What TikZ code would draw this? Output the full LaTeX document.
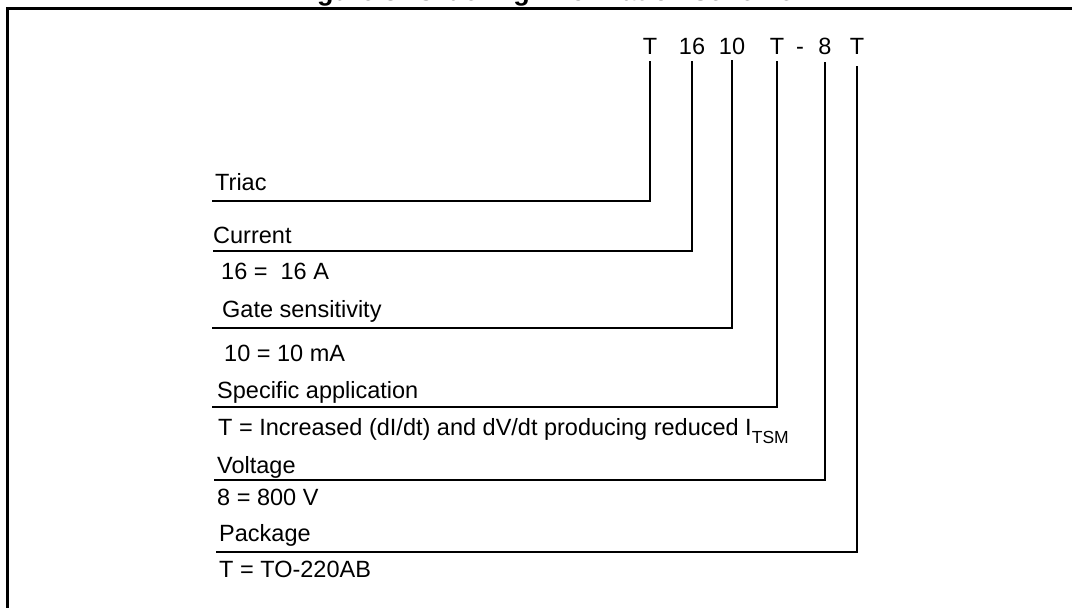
\documentclass[tikz,border=0pt]{standalone}
\usepackage{fontspec}
\setmainfont{Liberation Sans}
\begin{document}
\begin{tikzpicture}[x=1pt,y=-1pt,
  lbl/.style={anchor=base west,inner sep=0pt,font=\fontsize{23.5}{28}\selectfont},
  code/.style={anchor=base,inner sep=0pt,font=\fontsize{23.5}{28}\selectfont},
  conn/.style={line width=2pt,line cap=rect,line join=miter},
  frame/.style={line width=3pt}]
\useasboundingbox (0,0) rectangle (1072,608);
% title (mostly cut off at the top) and frame
\node[anchor=base west,inner sep=0pt,font=\bfseries\fontsize{27}{30}\selectfont] (title) at (293,0) {Figure 8. Ordering information scheme};
\draw[frame] (7,8.5) rectangle (1085,620);
% code letters
\node[code] (cA) at (650,54) {T};
\node[code] (cB) at (692,54) {16};
\node[code] (cC) at (732,54) {10};
\node[code] (cD) at (777,54) {T};
\node[code] (cdash) at (800,54) {-};
\node[code] (cE) at (825,54) {8};
\node[code] (cF) at (857,54) {T};
% labels
\node[lbl] (triac) at (215,190) {Triac};
\node[lbl] (curr) at (213,243) {Current};
\node[lbl] (currv) at (221,279) {16 =\ \ 16 A};
\node[lbl] (gate) at (222,317) {Gate sensitivity};
\node[lbl] (gatev) at (224,361) {10 = 10 mA};
\node[lbl] (spec) at (217,398) {Specific application};
\node[lbl] (specv) at (218,435) {T = Increased (dI/dt) and dV/dt producing reduced I\raisebox{-8pt}{\fontsize{17.5}{20}\selectfont TSM}};
\node[lbl] (volt) at (217,473) {Voltage};
\node[lbl] (voltv) at (217,505) {8 = 800 V};
\node[lbl] (pack) at (219,541) {Package};
\node[lbl] (packv) at (219,577) {T = TO-220AB};
% underline starts
\coordinate (sA) at (213,201);
\coordinate (sB) at (214,251);
\coordinate (sC) at (213,328);
\coordinate (sD) at (213,407);
\coordinate (sE) at (215,480);
\coordinate (sF) at (217,552);
% connectors
\draw[conn] ([yshift=-8pt]cA.south) |- (sA);
\draw[conn] ([yshift=-8pt]cB.south) |- (sB);
\draw[conn] ([yshift=-7pt]cC.south) |- (sC);
\draw[conn] ([yshift=-8pt]cD.south) |- (sD);
\draw[conn] ([yshift=-9pt]cE.south) |- (sE);
\draw[conn] ([yshift=-13pt]cF.south) |- (sF);
\end{tikzpicture}
\end{document}
